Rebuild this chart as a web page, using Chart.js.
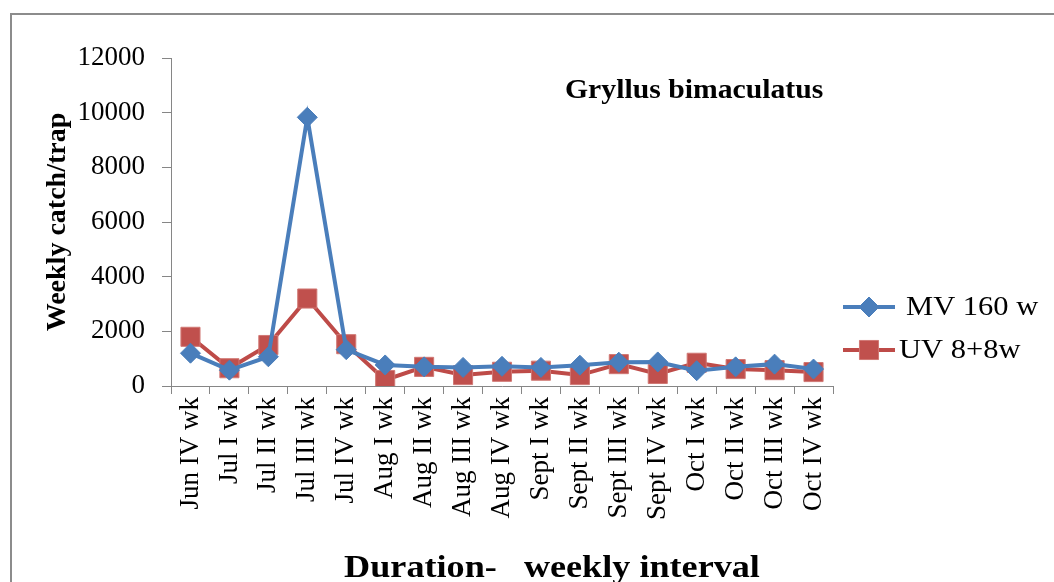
<!DOCTYPE html>
<html>
<head>
<meta charset="utf-8">
<script src="https://cdn.jsdelivr.net/npm/chart.js@4"></script>
<style>
  body { margin: 0; background: #fff; }
  canvas { display: block; }
</style>
</head>
<body>
<canvas id="c" width="1054" height="582"></canvas>
<script>
const weeks = ['Jun IV wk','Jul I wk','Jul II wk','Jul III wk','Jul IV wk','Aug I wk','Aug II wk','Aug III wk','Aug IV wk','Sept I wk','Sept II wk','Sept III wk','Sept IV wk','Oct I wk','Oct II wk','Oct III wk','Oct IV wk'];
const mv160 = [1200, 580, 1070, 9830, 1330, 770, 700, 680, 720, 680, 760, 870, 880, 560, 700, 800, 620];
const uv88 = [1800, 650, 1500, 3200, 1530, 220, 700, 400, 520, 560, 400, 800, 440, 850, 620, 580, 510];
const yTicks = [0, 2000, 4000, 6000, 8000, 10000, 12000];

const SERIF = "'Liberation Serif', 'Times New Roman', serif";
const AXIS = '#868686';

// text a bit wider than the font, like the original picture
function wideText(ctx, txt, x, y, sx, align){
  ctx.save();
  ctx.translate(x, y);
  ctx.scale(sx, 1);
  ctx.textAlign = align;
  ctx.fillText(txt, 0, 0);
  ctx.restore();
}

// frame, chart title, x title, legend
const extras = {
  id: 'extras',
  beforeDraw(chart){
    const ctx = chart.ctx;
    ctx.save();
    ctx.fillStyle = '#fff';
    ctx.fillRect(0, 0, chart.width, chart.height);
    ctx.strokeStyle = '#8c8c8c';
    ctx.lineWidth = 2;
    ctx.strokeRect(11, 14, chart.width + 20, chart.height + 20);
    ctx.restore();
  },
  afterDraw(chart){
    const ctx = chart.ctx;
    ctx.save();
    ctx.fillStyle = '#000';
    ctx.textBaseline = 'alphabetic';
    ctx.font = 'bold 27px ' + SERIF;
    wideText(ctx, 'Gryllus bimaculatus', 565, 98, 1.1, 'left');
    ctx.font = 'bold 32px ' + SERIF;
    wideText(ctx, 'Duration-   weekly interval', 552, 577, 1.13, 'center');

    // legend
    ctx.textBaseline = 'middle';
    ctx.font = '28px ' + SERIF;
    chart.data.datasets.forEach((ds, i) => {
      const y = 307 + i * 43;
      ctx.strokeStyle = ds.borderColor;
      ctx.lineWidth = 4;
      ctx.beginPath(); ctx.moveTo(843, y); ctx.lineTo(895, y); ctx.stroke();
      ctx.fillStyle = ds.pointBackgroundColor;
      ctx.strokeStyle = ds.pointBorderColor;
      ctx.lineWidth = 1;
      ctx.beginPath();
      if (ds.pointStyle === 'rect') {
        const s = ds.pointRadius * Math.SQRT1_2;
        ctx.rect(869 - s, y - s, 2 * s, 2 * s);
      } else {
        const r = ds.pointRadius;
        ctx.moveTo(869, y - r); ctx.lineTo(869 + r, y); ctx.lineTo(869, y + r); ctx.lineTo(869 - r, y); ctx.closePath();
      }
      ctx.fill(); ctx.stroke();
      ctx.fillStyle = '#000';
      wideText(ctx, ds.label, i === 0 ? 906 : 899, y + 1, 1.09, 'left');
    });
    ctx.restore();
  }
};

new Chart(document.getElementById('c'), {
  type: 'line',
  data: {
    labels: weeks,
    datasets: [
      {
        label: 'MV 160 w', data: mv160,
        borderColor: '#4a7ebb', borderWidth: 4,
        pointStyle: 'rectRot', pointRadius: 10,
        pointBackgroundColor: '#4a7ebb', pointBorderColor: '#4a7ebb', pointBorderWidth: 1,
        tension: 0
      },
      {
        label: 'UV 8+8w', data: uv88,
        borderColor: '#be4b48', borderWidth: 4,
        pointStyle: 'rect', pointRadius: 13.5,
        pointBackgroundColor: '#c0504d', pointBorderColor: '#d07874', pointBorderWidth: 1,
        tension: 0
      }
    ]
  },
  options: {
    responsive: false,
    animation: false,
    layout: { padding: { left: 0, right: 1054 - 833, top: 58, bottom: 0 } },
    plugins: { legend: { display: false }, tooltip: { enabled: false } },
    scales: {
      x: {
        offset: true,
        grid: { offset: true, drawOnChartArea: false, tickLength: 8, color: AXIS },
        border: { color: AXIS, width: 1 },
        ticks: { minRotation: 90, maxRotation: 90, color: '#000', padding: 3, font: { family: SERIF, size: 27 } },
        afterFit: s => { s.height = 582 - 386; }
      },
      y: {
        min: 0, max: 12000,
        afterBuildTicks: s => { s.ticks = yTicks.map(v => ({ value: v })); },
        grid: { drawOnChartArea: false, tickLength: 9, color: AXIS },
        border: { color: AXIS, width: 1 },
        ticks: { color: '#000', padding: 17, font: { family: SERIF, size: 27 }, callback: v => String(v) },
        title: {
          display: true, text: 'Weekly catch/trap', color: '#000',
          font: { family: SERIF, size: 28, weight: 'bold' },
          padding: { top: 41, bottom: 0 }
        },
        afterFit: s => { s.width = 171; }
      }
    }
  },
  plugins: [extras]
});
</script>
</body>
</html>
